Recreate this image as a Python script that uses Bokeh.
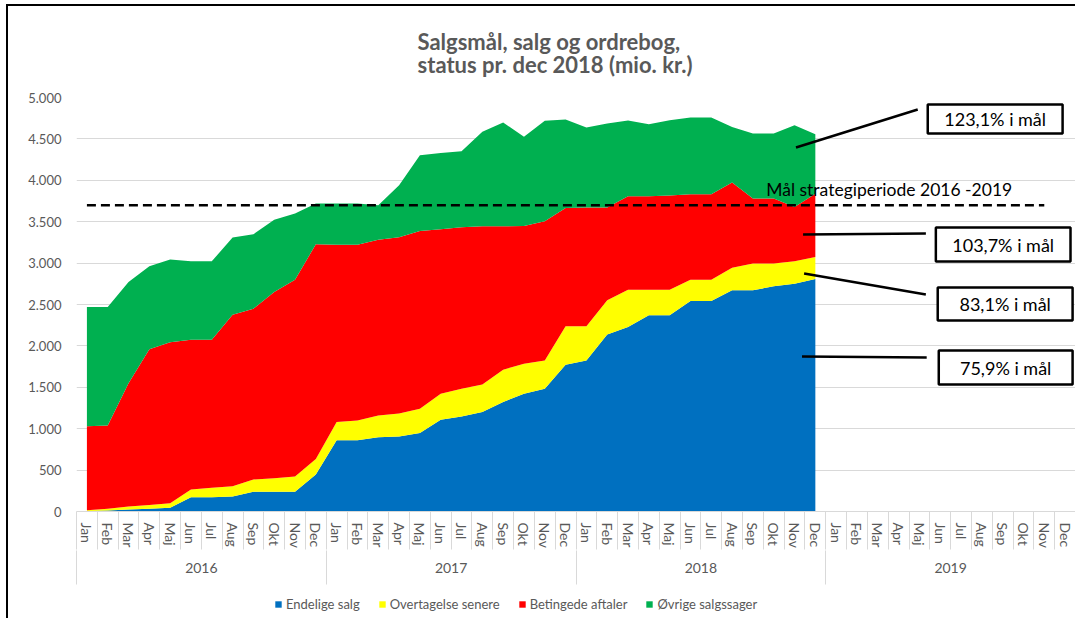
from bokeh.plotting import figure
from bokeh.layouts import column
from bokeh.models import (Range1d, LinearAxis, FixedTicker, Grid, Legend, LegendItem,
                          ColumnDataSource)
from bokeh.core.properties import value
from bokeh.embed import file_html
from bokeh.resources import INLINE

# ---------------- data ----------------
years = ["2016", "2017", "2018", "2019"]
months = ["Jan", "Feb", "Mar", "Apr", "Maj", "Jun", "Jul", "Aug", "Sep", "Okt", "Nov", "Dec"]

endelige_salg = [5, 12, 24, 32, 44, 173, 173, 181, 238, 238, 238, 447,
                 862, 862, 898, 906, 947, 1108, 1148, 1201, 1322, 1422, 1483, 1773,
                 1825, 2139, 2228, 2369, 2369, 2542, 2542, 2671, 2671, 2720, 2752, 2808]
overtagelse_senere = [10, 20, 36, 48, 56, 93, 113, 125, 149, 165, 185, 186,
                      218, 238, 262, 279, 294, 314, 335, 334, 390, 363, 342, 463,
                      411, 411, 451, 310, 310, 258, 258, 274, 323, 274, 270, 267]
betingede_aftaler = [1016, 1008, 1490, 1880, 1945, 1809, 1789, 2071, 2063, 2248, 2377, 2594,
                     2143, 2123, 2123, 2127, 2147, 1986, 1950, 1910, 1733, 1664, 1680, 1430,
                     1434, 1120, 1128, 1128, 1136, 1031, 1031, 1028, 785, 785, 656, 762]
ovrige_salgssager = [1439, 1430, 1222, 1001, 997, 947, 947, 931, 898, 874, 798, 492,
                     496, 496, 416, 628, 915, 923, 918, 1140, 1253, 1076, 1213, 1068,
                     967, 1016, 915, 871, 911, 927, 927, 672, 786, 786, 988, 718]

series_names = ["Endelige salg", "Overtagelse senere", "Betingede aftaler", "Øvrige salgssager"]
series_colors = ["#0070C0", "#FFFF00", "#FF0000", "#00B050"]

target_value = 3700          # Mål strategiperiode 2016-2019
target_last_month = 46       # line runs Jan 2016 .. Nov 2019

y_ticks = [0, 500, 1000, 1500, 2000, 2500, 3000, 3500, 4000, 4500, 5000]

annotations = ["123,1% i mål", "103,7% i mål", "83,1% i mål", "75,9% i mål"]

FONT = "Lato"
GREY = "#595959"
LIGHT = "#d9d9d9"

# ---------------- main figure ----------------
n_cat = len(years) * len(months)
p = figure(width=1067, height=584, output_backend="svg", toolbar_location=None,
           x_range=Range1d(0, n_cat), y_range=Range1d(0, 5000),
           x_axis_type=None, y_axis_type=None,
           min_border_left=68, min_border_right=0, min_border_top=91, min_border_bottom=79,
           title="Salgsmål, salg og ordrebog,\nstatus pr. dec 2018 (mio. kr.)")
p.outline_line_color = None
p.background_fill_color = "white"
p.border_fill_color = "white"

p.title.align = "right"
p.title.offset = 383
p.title.text_font = FONT
p.title.text_font_style = "bold"
p.title.text_font_size = "22px"
p.title.text_color = GREY
p.title.text_line_height = 0.87
p.title.standoff = 38

# y axis + grid
yticker = FixedTicker(ticks=y_ticks)
yaxis = LinearAxis(ticker=yticker)
yaxis.major_label_overrides = {t: f"{t:,}".replace(",", ".") for t in y_ticks}
yaxis.axis_line_color = None
yaxis.major_tick_line_color = None
yaxis.minor_tick_line_color = None
yaxis.major_tick_out = 0
yaxis.major_label_standoff = 15
yaxis.major_label_text_font = FONT
yaxis.major_label_text_font_size = "13px"
yaxis.major_label_text_color = GREY
p.add_layout(yaxis, "left")
p.add_layout(Grid(dimension=1, ticker=yticker, grid_line_color=LIGHT, grid_line_width=1))

# x axis: months (separators drawn as minor ticks on the category edges)
centers = [i + 0.5 for i in range(n_cat)]
edges = list(range(n_cat + 1))
xaxis = LinearAxis(ticker=FixedTicker(ticks=centers, minor_ticks=edges))
xaxis.major_label_overrides = {c: months[i % 12] for i, c in enumerate(centers)}
xaxis.major_label_orientation = "vertical"
xaxis.axis_line_color = LIGHT
xaxis.major_tick_line_color = None
xaxis.major_tick_out = 0
xaxis.major_tick_in = 0
xaxis.minor_tick_out = 0
xaxis.minor_tick_in = -38
xaxis.minor_tick_line_color = LIGHT
xaxis.major_label_standoff = 11
xaxis.major_label_text_font = FONT
xaxis.major_label_text_font_size = "14px"
xaxis.major_label_text_color = GREY
p.add_layout(xaxis, "below")

# x axis: years
year_centers = [6 + 12 * i for i in range(len(years))]
year_edges = [12 * i for i in range(len(years) + 1)]
xaxis2 = LinearAxis(ticker=FixedTicker(ticks=year_centers, minor_ticks=year_edges))
xaxis2.major_label_overrides = {c: years[i] for i, c in enumerate(year_centers)}
xaxis2.axis_line_color = None
xaxis2.major_tick_line_color = None
xaxis2.major_tick_out = 0
xaxis2.major_tick_in = 0
xaxis2.minor_tick_out = 0
xaxis2.minor_tick_in = -34
xaxis2.minor_tick_line_color = LIGHT
xaxis2.major_label_standoff = 12
xaxis2.major_label_text_font = FONT
xaxis2.major_label_text_font_size = "14px"
xaxis2.major_label_text_color = GREY
p.add_layout(xaxis2, "below")

# stacked areas
n_data = len(endelige_salg)
src = ColumnDataSource(dict(
    x=[i + 0.5 for i in range(n_data)],
    s0=endelige_salg, s1=overtagelse_senere, s2=betingede_aftaler, s3=ovrige_salgssager))
renderers = p.varea_stack(stackers=["s0", "s1", "s2", "s3"], x="x", color=series_colors, source=src)

# target line
p.line(x=[0.5, target_last_month + 0.5], y=[target_value, target_value],
       line_color="black", line_width=2.5, line_dash="9 5")
p.text(x=[33.14], y=[3889], text=["Mål strategiperiode 2016 -2019"],
       text_font=value(FONT), text_font_size="17.5px", text_color="black",
       text_baseline="middle", text_align="left")

# annotation boxes with leader lines
box_left = [40.90, 41.29, 41.38, 41.43]
box_right = [47.38, 47.76, 47.86, 47.86]
box_top = [4915, 3430, 2705, 1944]
box_bottom = [4565, 3019, 2307, 1534]
p.quad(left=box_left, right=box_right, top=box_top, bottom=box_bottom,
       fill_color="white", line_color="black", line_width=2.5)
p.text(x=[(l + r) / 2 for l, r in zip(box_left, box_right)],
       y=[(t + b) / 2 for t, b in zip(box_top, box_bottom)],
       text=annotations, text_font=value(FONT), text_font_size="18px", text_color="black",
       text_align="center", text_baseline="middle")
p.segment(x0=[34.57, 34.91, 34.96, 34.86], y0=[4396, 3345, 2874, 1872],
          x1=[40.42, 40.81, 40.81, 40.85], y1=[4855, 3357, 2621, 1860],
          line_color="black", line_width=2.5)

# ---------------- legend strip ----------------
p2 = figure(width=1067, height=28, output_backend="svg", toolbar_location=None,
            x_range=Range1d(0, 1), y_range=Range1d(0, 1),
            x_axis_type=None, y_axis_type=None, min_border=0)
p2.outline_line_color = None
p2.background_fill_color = "white"
p2.border_fill_color = "white"
p2.grid.visible = False
legend_renderers = [p2.varea(x=[0, 0], y1=[0, 0], y2=[0, 0], fill_color=c) for c in series_colors]
legend = Legend(items=[LegendItem(label=n, renderers=[r]) for n, r in zip(series_names, legend_renderers)],
                orientation="horizontal", location=(198, 6),
                glyph_width=8, glyph_height=8, label_height=14, label_standoff=4, spacing=18,
                padding=0, margin=0, border_line_color=None, background_fill_alpha=0,
                label_text_font=FONT, label_text_font_size="13px", label_text_color=GREY)
p2.add_layout(legend)

# chart frame: black line on the left and top, as in the source document
layout = column(p, p2, spacing=0, width=1069, height=614, margin=(4, 0, 0, 6),
                styles={"box-sizing": "border-box", "overflow": "hidden",
                        "border-left": "2px solid black", "border-top": "2px solid black"})

open("out.html", "w").write(file_html(layout, INLINE))
